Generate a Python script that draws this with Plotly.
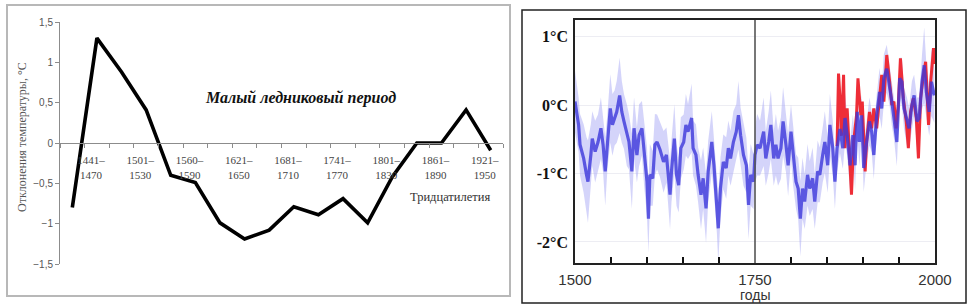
import plotly.graph_objects as go

# ---------------- Left chart: 30-year anomalies ----------------
periods = ["1411–1440", "1441–1470", "1471–1500", "1501–1530", "1531–1560",
           "1560–1590", "1591–1620", "1621–1650", "1651–1680", "1681–1710",
           "1711–1740", "1741–1770", "1771–1800", "1801–1830", "1831–1860",
           "1861–1890", "1891–1920", "1921–1950"]
anomaly = [-0.8, 1.3, 0.88, 0.41, -0.4, -0.49, -0.99, -1.19, -1.08, -0.79,
           -0.89, -0.69, -0.99, -0.42, 0.0, 0.0, 0.41, -0.09]
left_yticks = [-1.5, -1, -0.5, 0, 0.5, 1, 1.5]

# ---------------- Right chart: reconstruction 1500-2000 ----------------
blue_years = [1500, 1505, 1507, 1512, 1516, 1518, 1522, 1524, 1528, 1532,
              1536, 1539, 1542, 1545, 1549, 1552, 1555, 1558, 1562, 1565,
              1568, 1572, 1575, 1579, 1582, 1586, 1589, 1593, 1596, 1600,
              1602, 1604, 1608, 1611, 1614, 1618, 1623, 1627, 1632, 1634,
              1638, 1641, 1644, 1647, 1651, 1654, 1657, 1662, 1664, 1668,
              1671, 1675, 1678, 1682, 1685, 1690, 1693, 1697, 1699, 1702,
              1706, 1710, 1713, 1716, 1720, 1724, 1727, 1730, 1734, 1738,
              1741, 1744, 1748, 1750, 1753, 1757, 1762, 1765, 1769, 1772,
              1776, 1779, 1782, 1786, 1789, 1793, 1796, 1800, 1803, 1807,
              1810, 1813, 1816, 1819, 1823, 1826, 1830, 1833, 1837, 1840,
              1844, 1847, 1851, 1854, 1858, 1861, 1864, 1868, 1872, 1875,
              1878, 1882, 1886, 1889, 1892, 1895, 1898, 1901, 1905, 1909,
              1912, 1915, 1919, 1923, 1926, 1929, 1933, 1937, 1940, 1943,
              1947, 1951, 1954, 1957, 1961, 1964, 1968, 1971, 1975, 1978,
              1982, 1985, 1988, 1992, 1995, 1999]
blue_values = [0.05, -0.29, -0.58, -0.78, -1.02, -1.12, -0.73, -0.49, -0.68, -0.54,
               -0.34, -0.58, -0.97, -0.54, -0.05, -0.29, -0.19, -0.10, 0.14, -0.10,
               -0.24, -0.44, -0.54, -0.97, -0.34, -0.73, -0.44, -0.34, -0.73, -1.12,
               -1.66, -1.02, -1.07, -0.58, -0.54, -0.65, -0.83, -0.73, -1.31, -0.97,
               -0.49, -1.02, -1.17, -0.63, -0.54, -0.29, -0.39, -0.19, -0.63, -0.73,
               -1.02, -1.31, -1.07, -1.51, -0.97, -0.54, -0.88, -1.41, -1.80, -1.22,
               -0.83, -0.92, -0.63, -0.78, -0.54, -0.39, -0.15, -0.44, -0.73, -0.88,
               -1.46, -1.02, -1.12, -0.73, -0.58, -0.63, -0.39, -0.78, -0.54, -0.29,
               -0.78, -0.58, -0.78, -0.63, -0.24, -0.58, -0.88, -0.39, -0.73, -1.12,
               -1.22, -1.66, -1.22, -1.41, -1.02, -1.22, -1.07, -1.41, -0.97, -1.02,
               -0.73, -0.54, -0.88, -0.29, -0.63, -1.12, -0.63, -0.35, -0.63, -0.19,
               -0.44, -0.88, -0.44, -0.88, -0.10, -0.54, -0.15, -0.92, -0.54, -0.24,
               -0.39, -0.73, -0.15, 0.19, -0.05, 0.39, 0.53, 0.29, 0.05, -0.19,
               -0.54, 0.39, 0.34, -0.05, -0.24, -0.34, 0.00, 0.14, -0.24, -0.19,
               0.34, 0.58, 0.19, -0.10, 0.34, 0.14]
blue_spread = [0.45, 0.40, 0.45, 0.50, 0.55, 0.60, 0.45, 0.40, 0.45, 0.40,
               0.45, 0.40, 0.50, 0.40, 0.50, 0.45, 0.40, 0.45, 0.55, 0.45,
               0.40, 0.45, 0.40, 0.55, 0.45, 0.40, 0.45, 0.40, 0.45, 0.50,
               0.50, 0.45, 0.40, 0.45, 0.40, 0.40, 0.45, 0.40, 0.50, 0.45,
               0.50, 0.45, 0.40, 0.45, 0.40, 0.45, 0.40, 0.50, 0.40, 0.45,
               0.40, 0.50, 0.45, 0.50, 0.45, 0.45, 0.40, 0.45, 0.50, 0.45,
               0.40, 0.45, 0.40, 0.40, 0.45, 0.40, 0.50, 0.40, 0.45, 0.40,
               0.50, 0.45, 0.40, 0.40, 0.45, 0.40, 0.50, 0.40, 0.45, 0.50,
               0.40, 0.45, 0.40, 0.45, 0.50, 0.40, 0.45, 0.40, 0.45, 0.40,
               0.45, 0.55, 0.45, 0.40, 0.45, 0.40, 0.45, 0.40, 0.45, 0.40,
               0.40, 0.45, 0.40, 0.45, 0.40, 0.40, 0.35, 0.35, 0.30, 0.35,
               0.30, 0.35, 0.30, 0.35, 0.30, 0.35, 0.30, 0.35, 0.30, 0.35,
               0.30, 0.35, 0.30, 0.35, 0.30, 0.35, 0.35, 0.30, 0.35, 0.30,
               0.35, 0.30, 0.35, 0.30, 0.35, 0.30, 0.35, 0.30, 0.35, 0.30,
               0.40, 0.55, 0.40, 0.35, 0.50, 0.40]

red_years = [1864, 1866, 1868, 1870, 1873, 1875, 1878, 1882, 1884, 1887,
             1891, 1893, 1897, 1899, 1903, 1905, 1909, 1912, 1915, 1919,
             1923, 1926, 1929, 1933, 1937, 1940, 1943, 1946, 1949, 1952,
             1956, 1960, 1963, 1966, 1970, 1974, 1977, 1980, 1984, 1987,
             1991, 1994, 1998, 2000]
red_values = [-0.60, 0.46, 0.10, -0.45, 0.44, -0.63, -0.05, -0.97, -1.31, -0.54,
              -0.15, 0.39, -0.15, 0.05, -0.97, -0.54, -0.10, -0.34, -0.05, -0.34,
              0.14, 0.44, 0.05, 0.73, 0.34, 0.00, 0.05, -0.34, 0.00, 0.68,
              0.10, -0.24, -0.63, -0.10, 0.10, -0.19, -0.78, 0.10, 0.44, 0.63,
              -0.29, 0.34, 0.83, 0.60]

right_xticks = [1500, 1750, 2000]
right_minor_ticks = [1550, 1600, 1650, 1700, 1800, 1850, 1900, 1950]
right_yticks = [-2, -1, 0, 1]
right_yticktext = ["-2°C", "-1°C", "0°C", "1°C"]
divider_year = 1750

W, H = 968, 305


def px_x(p):
    return p / W


def px_y(p):
    return 1 - p / H


fig = go.Figure()

# Left line
fig.add_trace(go.Scatter(
    x=list(range(len(periods))), y=anomaly, mode="lines",
    line=dict(color="black", width=3.6), xaxis="x", yaxis="y",
    hoverinfo="skip", showlegend=False))

# Right band
upper = [v + s for v, s in zip(blue_values, blue_spread)]
lower = [v - s for v, s in zip(blue_values, blue_spread)]
fig.add_trace(go.Scatter(
    x=blue_years + blue_years[::-1], y=upper + lower[::-1],
    fill="toself", fillcolor="rgba(170,170,245,0.5)", line=dict(width=0),
    mode="lines", xaxis="x2", yaxis="y2", hoverinfo="skip", showlegend=False))

# Red instrumental
fig.add_trace(go.Scatter(
    x=red_years, y=red_values, mode="lines",
    line=dict(color="rgb(238,45,55)", width=3),
    xaxis="x2", yaxis="y2", hoverinfo="skip", showlegend=False))

# Blue reconstruction
fig.add_trace(go.Scatter(
    x=blue_years, y=blue_values, mode="lines",
    line=dict(color="rgb(60,55,220)", width=3.2), opacity=0.8,
    xaxis="x2", yaxis="y2", hoverinfo="skip", showlegend=False))

left_ydom = [px_y(264), px_y(22)]
label_idx = list(range(1, len(periods), 2))

fig.update_layout(
    width=W, height=H,
    margin=dict(l=0, r=0, t=0, b=0, pad=0),
    paper_bgcolor="white", plot_bgcolor="rgba(0,0,0,0)",
    separators=", ",
    showlegend=False,
    xaxis=dict(
        domain=[px_x(60), px_x(503)],
        range=[-0.5, len(periods) - 0.5], automargin=False,
        anchor="free", position=(left_ydom[0] + left_ydom[1]) / 2,
        showline=True, linecolor="#8c8c8c", linewidth=1,
        tickmode="array",
        tickvals=[i - 0.24 for i in label_idx],
        ticktext=[periods[i].replace("–", "–<br>") for i in label_idx],
        ticks="", ticklabelstandoff=7,
        tickfont=dict(family="Liberation Serif", size=11, color="#444"),
        minor=dict(tickmode="array",
                   tickvals=[k - 0.5 for k in range(len(periods) + 1)],
                   ticks="outside", ticklen=4, tickcolor="#8c8c8c",
                   showgrid=False),
        showgrid=False, zeroline=False, fixedrange=True,
    ),
    yaxis=dict(
        domain=left_ydom, range=[-1.5, 1.5], anchor="x", automargin=False,
        tickmode="array", tickvals=left_yticks,
        ticks="outside", ticklen=4, tickcolor="#8c8c8c",
        showline=True, linecolor="#8c8c8c", linewidth=1,
        tickfont=dict(family="Liberation Sans", size=10, color="#555"),
        showgrid=False, zeroline=False, fixedrange=True,
    ),
    xaxis2=dict(
        domain=[px_x(575), px_x(935)], range=[1500, 2000], anchor="y2",
        automargin=False,
        tickmode="array", tickvals=right_xticks,
        ticktext=[str(v) for v in right_xticks],
        ticks="", ticklabelstandoff=2,
        tickfont=dict(family="Liberation Sans", size=15, color="#333"),
        minor=dict(tickmode="array", tickvals=right_minor_ticks,
                   ticks="inside", ticklen=6, tickwidth=1.5,
                   tickcolor="#111", showgrid=False),
        showline=True, mirror=True, linecolor="#222", linewidth=1.5,
        showgrid=False, zeroline=False, fixedrange=True,
    ),
    yaxis2=dict(
        domain=[px_y(263), px_y(20)], range=[-2.307, 1.241], anchor="x2",
        automargin=False,
        tickmode="array", tickvals=right_yticks, ticktext=right_yticktext,
        ticks="", ticklabelstandoff=2,
        tickfont=dict(family="Liberation Serif", size=16, color="#111",
                      weight="bold"),
        showline=True, mirror=True, linecolor="#222", linewidth=1.5,
        showgrid=True, gridcolor="#ededf3", gridwidth=1,
        zeroline=False, fixedrange=True,
    ),
    shapes=[
        dict(type="rect", xref="paper", yref="paper",
             x0=px_x(7), x1=px_x(510), y0=px_y(296), y1=px_y(5),
             line=dict(color="#b8b8b8", width=2)),
        dict(type="rect", xref="paper", yref="paper",
             x0=px_x(522), x1=px_x(966), y0=px_y(303), y1=px_y(10),
             line=dict(color="#222", width=1.5)),
        dict(type="line", xref="x2", yref="y2 domain",
             x0=divider_year, x1=divider_year, y0=0, y1=1,
             line=dict(color="#555", width=1.6)),
    ],
    annotations=[
        dict(text="Отклонения температуры, °C", xref="paper", yref="paper",
             x=px_x(22), y=px_y(137), textangle=-90, showarrow=False,
             xanchor="center", yanchor="middle",
             font=dict(family="Liberation Serif", size=12, color="#555")),
        dict(text="Малый ледниковый период", xref="paper", yref="paper",
             x=px_x(300), y=px_y(98), showarrow=False,
             xanchor="center", yanchor="middle",
             font=dict(family="Liberation Serif", size=16, color="#111",
                       weight="bold", style="italic")),
        dict(text="Тридцатилетия", xref="paper", yref="paper",
             x=px_x(450), y=px_y(197), showarrow=False,
             xanchor="center", yanchor="middle",
             font=dict(family="Liberation Serif", size=12.5, color="#333")),
        dict(text="годы", xref="paper", yref="paper",
             x=px_x(755), y=px_y(295), showarrow=False,
             xanchor="center", yanchor="middle", borderpad=0,
             font=dict(family="Liberation Sans", size=14, color="#333")),
    ],
)

fig.write_html(
    "out.html",
    config={"displayModeBar": False},
    post_script="document.body.style.margin='0';document.body.style.padding='0';"
                "document.documentElement.style.overflow='hidden';",
)
